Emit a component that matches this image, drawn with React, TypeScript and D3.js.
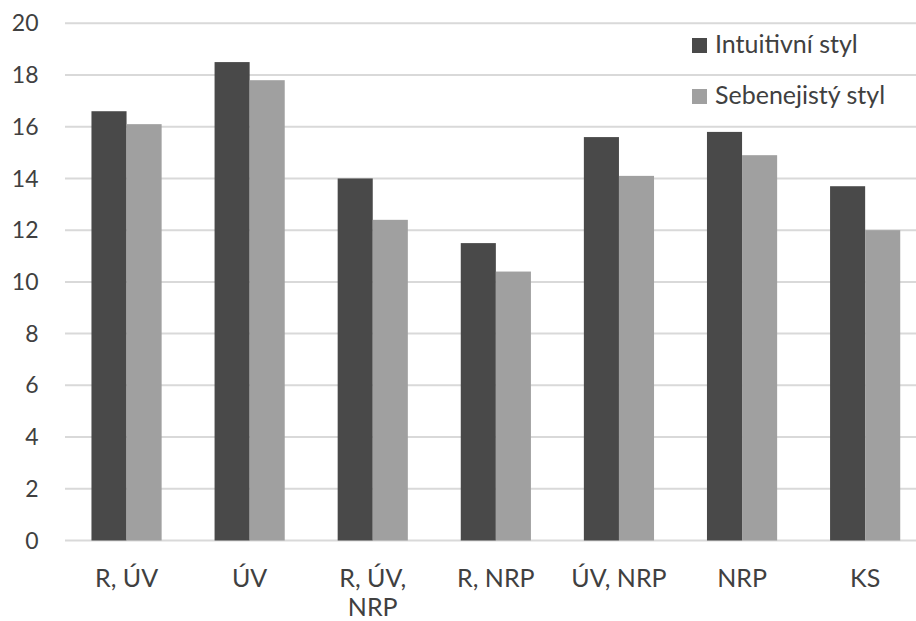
import React from "react";
import * as d3 from "d3";

const categories: string[][] = [["R, ÚV"], ["ÚV"], ["R, ÚV,", "NRP"], ["R, NRP"], ["ÚV, NRP"], ["NRP"], ["KS"]];
const intuitivni = [16.6, 18.5, 14.0, 11.5, 15.6, 15.8, 13.7];
const sebenejisty = [16.1, 17.8, 12.4, 10.4, 14.1, 14.9, 12.0];
const seriesNames = ["Intuitivní styl", "Sebenejistý styl"];
const yTicks = [0, 2, 4, 6, 8, 10, 12, 14, 16, 18, 20];

const W = 916, H = 621;
const x0 = 65, band = 123.1;
const FONT = "Lato, 'Open Sans', sans-serif";
const textColor = "#404040";
const colors = ["#494949", "#a0a0a0"];

export default function App() {
  const x = d3.scaleBand<number>().domain(d3.range(categories.length)).range([x0, x0 + band * categories.length]).paddingInner(0.43).paddingOuter(0.215);
  const y = d3.scaleLinear().domain([0, 20]).range([540.5, 23.3]);
  const bw = x.bandwidth() / 2;
  return (
    <svg width={W} height={H} style={{ position: "absolute", left: 0, top: 0, background: "#fff" }}>
      {yTicks.map((t) => (
        <g key={t}>
          <line x1={x0} x2={W} y1={y(t)} y2={y(t)} stroke="#d9d9d9" strokeWidth={2} />
          <text x={38.5} y={y(t)} dy="0.35em" textAnchor="end" fontFamily={FONT} fontSize={23} fill={textColor}>{t}</text>
        </g>
      ))}
      {categories.map((c, i) => (
        <g key={i}>
          <rect x={x(i)!} y={y(intuitivni[i])} width={bw} height={y(0) - y(intuitivni[i])} fill={colors[0]} />
          <rect x={x(i)! + bw} y={y(sebenejisty[i])} width={bw} height={y(0) - y(sebenejisty[i])} fill={colors[1]} />
          {c.map((line, j) => (
            <text key={j} x={x(i)! + bw} y={586.5 + j * 29} textAnchor="middle" fontFamily={FONT} fontSize={25} fill={textColor}>{line}</text>
          ))}
        </g>
      ))}
      {seriesNames.map((n, i) => (
        <g key={n}>
          <rect x={692} y={38 + i * 51} width={15} height={15} fill={colors[i]} />
          <text x={715} y={53.3 + i * 51} fontFamily={FONT} fontSize={25} fill={textColor}>{n}</text>
        </g>
      ))}
    </svg>
  );
}
